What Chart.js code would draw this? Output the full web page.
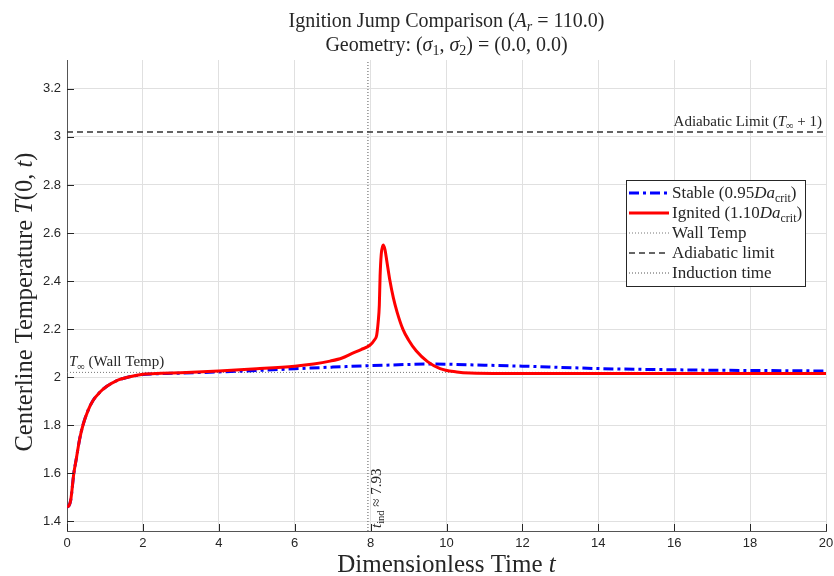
<!DOCTYPE html>
<html lang="en">
<head>
<meta charset="UTF-8">
<title>Ignition Jump Comparison</title>
<script src="https://cdn.jsdelivr.net/npm/chart.js@4.4.0/dist/chart.umd.min.js"></script>
<style>
  html, body { margin: 0; padding: 0; background: #fff; }
</style>
</head>
<body>
<canvas id="chart" width="834" height="576"></canvas>
<script>
// values
const stableTime = [0, 0.05, 0.1, 0.18, 0.25, 0.33, 0.42, 0.55, 0.69, 0.85, 1.05, 1.3, 1.6, 2, 2.5, 3, 4, 5, 6, 7, 8, 9, 9.5, 10, 11, 12, 13, 14, 15, 16, 17, 18, 19, 20];
const stableTemp = [1.46, 1.465, 1.49, 1.6, 1.665, 1.74, 1.8, 1.86, 1.904, 1.935, 1.962, 1.985, 2.0, 2.011, 2.015, 2.017, 2.022, 2.028, 2.035, 2.042, 2.048, 2.053, 2.055, 2.054, 2.05, 2.046, 2.041, 2.036, 2.033, 2.031, 2.029, 2.028, 2.027, 2.026];

const ignitedTime = [0, 0.05, 0.1, 0.18, 0.25, 0.33, 0.42, 0.55, 0.69, 0.85, 1.05, 1.3, 1.6, 2, 2.5, 3, 4, 5, 6, 6.5, 6.93, 7.25, 7.5, 7.75, 7.98, 8.1, 8.16, 8.2, 8.23, 8.25, 8.28, 8.33, 8.38, 8.43, 8.5, 8.6, 8.7, 8.85, 9.0, 9.2, 9.5, 9.83, 10.27, 10.62, 11.5, 13, 15, 17, 20];
const ignitedTemp = [1.46, 1.465, 1.49, 1.6, 1.665, 1.74, 1.8, 1.86, 1.904, 1.935, 1.962, 1.985, 2.0, 2.012, 2.016, 2.019, 2.026, 2.035, 2.046, 2.055, 2.067, 2.08, 2.098, 2.115, 2.133, 2.155, 2.175, 2.23, 2.3, 2.42, 2.51, 2.55, 2.53, 2.48, 2.41, 2.33, 2.27, 2.2, 2.155, 2.11, 2.065, 2.036, 2.022, 2.017, 2.015, 2.015, 2.015, 2.015, 2.015];

const wallTemp = 2.02;
const adiabaticTemp = 3.02;
const inductionTime = 7.93;

const xTicks = [0, 2, 4, 6, 8, 10, 12, 14, 16, 18, 20];
const yTicks = [1.4, 1.6, 1.8, 2.0, 2.2, 2.4, 2.6, 2.8, 3.0, 3.2];
const xMin = 0, xMax = 20, yMin = 1.36, yMax = 3.32;

const SERIF = '"Liberation Serif", "DejaVu Serif", serif';
const SANS = '"Liberation Sans", Arial, sans-serif';
const INK = '#262626';

function pts(xs, ys) {
  return xs.map((x, i) => ({ x: x, y: ys[i] }));
}

// rich text: parts are [text, style] where style may contain 'i' (italic) and 's' (subscript)
function partFont(p, size) {
  const st = p[1] || '';
  const s = st.includes('s') ? size * 0.7 : size;
  return (st.includes('i') ? 'italic ' : '') + s + 'px ' + SERIF;
}
function drawRich(ctx, parts, x, y, size, align) {
  const widths = parts.map(p => { ctx.font = partFont(p, size); return ctx.measureText(p[0]).width; });
  const total = widths.reduce((a, b) => a + b, 0);
  let cx = align === 'center' ? x - total / 2 : align === 'right' ? x - total : x;
  ctx.textAlign = 'left';
  ctx.textBaseline = 'alphabetic';
  parts.forEach((p, i) => {
    ctx.font = partFont(p, size);
    const dy = (p[1] || '').includes('s') ? size * 0.22 : 0;
    ctx.fillText(p[0], cx, y + dy);
    cx += widths[i];
  });
  return total;
}

const legendItems = [
  { ds: 0, parts: [['Stable (0.95'], ['Da', 'i'], ['crit', 's'], [')']] },
  { ds: 1, parts: [['Ignited (1.10'], ['Da', 'i'], ['crit', 's'], [')']] },
  { ds: 2, parts: [['Wall Temp']] },
  { ds: 3, parts: [['Adiabatic limit']] },
  { ds: 4, parts: [['Induction time']] }
];

const decorations = {
  id: 'decorations',
  afterDatasetsDraw(chart) {
    const ctx = chart.ctx;
    const a = chart.chartArea;
    const xs = chart.scales.x, ys = chart.scales.y;
    ctx.save();
    ctx.fillStyle = INK;

    // inward tick marks
    ctx.strokeStyle = INK;
    ctx.lineWidth = 1;
    ctx.beginPath();
    xTicks.forEach(v => {
      const px = Math.round(xs.getPixelForValue(v)) + 0.5;
      ctx.moveTo(px, a.bottom); ctx.lineTo(px, a.bottom - 7);
    });
    yTicks.forEach(v => {
      const py = Math.round(ys.getPixelForValue(v)) + 0.5;
      ctx.moveTo(a.left, py); ctx.lineTo(a.left + 7, py);
    });
    ctx.stroke();

    // line annotations
    drawRich(ctx, [['Adiabatic Limit ('], ['T', 'i'], ['∞', 's'], [' + 1)']],
      a.right - 4, ys.getPixelForValue(adiabaticTemp) - 6, 15, 'right');
    drawRich(ctx, [['T', 'i'], ['∞', 's'], [' (Wall Temp)']],
      a.left + 2, ys.getPixelForValue(wallTemp) - 6, 15, 'left');
    ctx.save();
    ctx.translate(xs.getPixelForValue(inductionTime) + 13, a.bottom - 3);
    ctx.rotate(-Math.PI / 2);
    drawRich(ctx, [['t', 'i'], ['ind', 's'], [' ≈ 7.93']], 0, 0, 15, 'left');
    ctx.restore();

    // legend
    const lx = 626, ly = 180, lw = 179, lh = 106;
    ctx.fillStyle = '#fff';
    ctx.fillRect(lx, ly, lw, lh);
    ctx.strokeStyle = INK;
    ctx.lineWidth = 1;
    ctx.strokeRect(lx + 0.5, ly + 0.5, lw, lh);
    legendItems.forEach((item, i) => {
      const ds = chart.data.datasets[item.ds];
      const rowY = ly + 13 + i * 20;
      ctx.save();
      ctx.strokeStyle = ds.borderColor;
      ctx.lineWidth = ds.borderWidth;
      ctx.setLineDash(ds.borderDash || []);
      ctx.beginPath();
      ctx.moveTo(lx + 3, rowY); ctx.lineTo(lx + 43, rowY);
      ctx.stroke();
      ctx.restore();
      ctx.fillStyle = INK;
      drawRich(ctx, item.parts, lx + 46, rowY + 5, 17, 'left');
    });

    // titles
    ctx.fillStyle = INK;
    const cx = (a.left + a.right) / 2;
    drawRich(ctx, [['Ignition Jump Comparison ('], ['A', 'i'], ['r', 'is'], [' = 110.0)']], cx, 27, 20, 'center');
    drawRich(ctx, [['Geometry: ('], ['σ', 'i'], ['1', 's'], [', '], ['σ', 'i'], ['2', 's'], [') = (0.0, 0.0)']], cx, 51, 20, 'center');
    drawRich(ctx, [['Dimensionless Time '], ['t', 'i']], cx, 572, 25, 'center');
    ctx.save();
    ctx.translate(32, 302);
    ctx.rotate(-Math.PI / 2);
    drawRich(ctx, [['Centerline Temperature '], ['T', 'i'], ['(0, '], ['t', 'i'], [')']], 0, 0, 24.5, 'center');
    ctx.restore();

    ctx.restore();
  }
};

const ctx = document.getElementById('chart').getContext('2d');
new Chart(ctx, {
  type: 'line',
  data: {
    datasets: [
      {
        label: 'Stable',
        data: pts(stableTime, stableTemp),
        borderColor: '#0000ff',
        borderWidth: 3,
        borderDash: [10, 4, 3, 4],
        pointRadius: 0,
        cubicInterpolationMode: 'monotone',
        order: 1
      },
      {
        label: 'Ignited',
        data: pts(ignitedTime, ignitedTemp),
        borderColor: '#ff0000',
        borderWidth: 3,
        pointRadius: 0,
        cubicInterpolationMode: 'monotone',
        order: 0
      },
      {
        label: 'Wall Temp',
        data: pts([xMin, xMax], [wallTemp, wallTemp]),
        borderColor: '#777777',
        borderWidth: 1,
        borderDash: [1, 2],
        pointRadius: 0,
        order: 2
      },
      {
        label: 'Adiabatic limit',
        data: pts([xMin, xMax], [adiabaticTemp, adiabaticTemp]),
        borderColor: '#333333',
        borderWidth: 1.5,
        borderDash: [6, 4],
        pointRadius: 0,
        order: 2
      },
      {
        label: 'Induction time',
        data: pts([inductionTime, inductionTime], [yMin, yMax]),
        borderColor: '#555555',
        borderWidth: 1,
        borderDash: [1, 2],
        pointRadius: 0,
        order: 2
      }
    ]
  },
  options: {
    responsive: false,
    animation: false,
    devicePixelRatio: 1,
    layout: { padding: { top: 60, right: 8, left: 0, bottom: 0 } },
    plugins: {
      legend: { display: false },
      title: { display: false },
      tooltip: { enabled: false }
    },
    scales: {
      x: {
        type: 'linear',
        min: xMin,
        max: xMax,
        afterBuildTicks: s => { s.ticks = xTicks.map(v => ({ value: v })); },
        afterFit: s => { s.height = 45; s.paddingLeft = 0; s.paddingRight = 0; },
        ticks: { color: INK, font: { family: SANS, size: 13 }, padding: 5, maxRotation: 0 },
        grid: { color: '#e0e0e0', drawTicks: false },
        border: { color: '#555555', width: 1 }
      },
      y: {
        type: 'linear',
        min: yMin,
        max: yMax,
        afterBuildTicks: s => { s.ticks = yTicks.map(v => ({ value: v })); },
        afterFit: s => { s.width = 67; },
        ticks: {
          color: INK,
          font: { family: SANS, size: 13 },
          padding: 6,
          callback: v => String(Math.round(v * 10) / 10)
        },
        grid: { color: '#e0e0e0', drawTicks: false },
        border: { color: '#555555', width: 1 }
      }
    }
  },
  plugins: [decorations]
});
</script>
</body>
</html>
